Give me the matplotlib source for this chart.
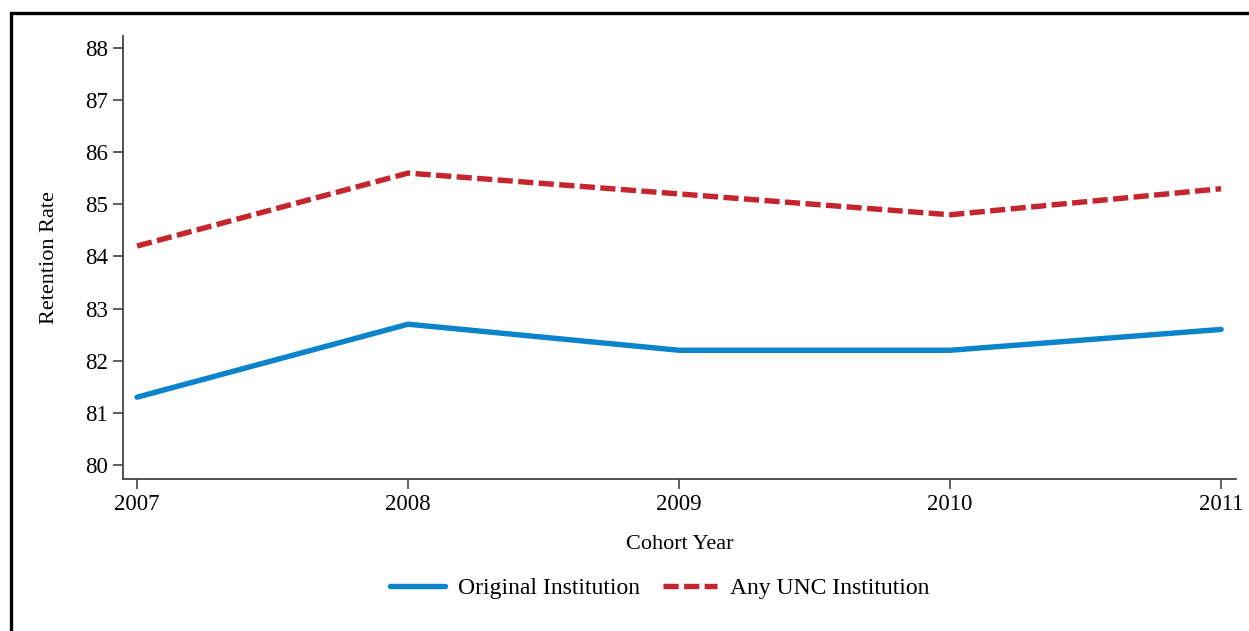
import matplotlib
matplotlib.use("Agg")
import matplotlib.pyplot as plt
from matplotlib.patches import Rectangle

years = [2007, 2008, 2009, 2010, 2011]
original = [81.3, 82.7, 82.2, 82.2, 82.6]
any_unc = [84.2, 85.6, 85.2, 84.8, 85.3]
yticks = [80, 81, 82, 83, 84, 85, 86, 87, 88]

plt.rcParams['font.family'] = ['Liberation Serif', 'DejaVu Serif']

W, H = 1249, 631
fig = plt.figure(figsize=(W / 100, H / 100), dpi=100)
ax = fig.add_axes([123 / W, 1 - 479 / H, (1236 - 123) / W, (479 - 36) / H])

ax.plot(years, original, color='#0b84cc', lw=3.9, solid_capstyle='round',
        label='Original Institution')
ax.plot(years, any_unc, color='#c5262e', lw=3.9, ls=(0, (2.8, 1.0)),
        label='Any UNC Institution')

ax.set_xlim(2006.948, 2011.055)
ax.set_ylim(79.73, 88.23)
ax.set_xticks(years)
ax.set_yticks(yticks)
ax.tick_params(axis='both', direction='out', length=7, width=1.2,
               color='#444444', labelsize=16.5, pad=4)
for s in ['top', 'right']:
    ax.spines[s].set_visible(False)
for s in ['left', 'bottom']:
    ax.spines[s].set_color('#444444')
    ax.spines[s].set_linewidth(1.3)

ax.set_xlabel('Cohort Year', fontsize=16, labelpad=14)
ax.set_ylabel('Retention Rate', fontsize=16, labelpad=18.5)

leg = ax.legend(loc='center', bbox_to_anchor=(660 / W, 1 - 588 / H),
                bbox_transform=fig.transFigure, ncol=2, frameon=False,
                fontsize=17, handlelength=2.3, columnspacing=1.0,
                handletextpad=0.55)

# outer frame (cropped on the right and bottom)
fig.patches.append(Rectangle((10.5 / W, -0.2), 1.5, 1.2 - 12.5 / H,
                             transform=fig.transFigure, fill=False,
                             edgecolor='black', lw=2.4, clip_on=False))

fig.savefig('out.png', dpi=100)
